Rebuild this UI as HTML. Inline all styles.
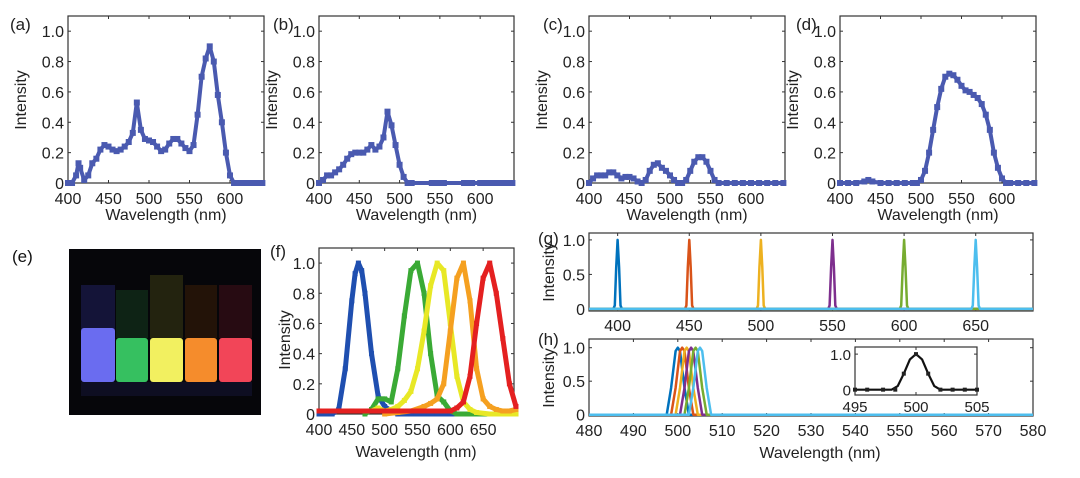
<!DOCTYPE html>
<html><head><meta charset="utf-8"><style>
html,body{margin:0;padding:0;background:#fff;}
svg{display:block;font-family:"Liberation Sans",Arial,sans-serif;}
</style></head><body>
<svg id="fig" width="1080" height="478" viewBox="0 0 1080 478" xmlns="http://www.w3.org/2000/svg">
<g id="photo">
  <text x="12" y="262" font-size="17" fill="#111">(e)</text>
  <rect x="69" y="249" width="192" height="166" fill="#06060a"/>
  <rect x="81" y="285" width="34" height="45" fill="#181844" opacity="0.8"/>
  <rect x="116" y="290" width="32" height="48" fill="#102a18" opacity="0.8"/>
  <rect x="150" y="275" width="33" height="63" fill="#2a2a10" opacity="0.8"/>
  <rect x="185" y="285" width="32" height="53" fill="#2a1608" opacity="0.8"/>
  <rect x="219" y="285" width="33" height="53" fill="#300c14" opacity="0.8"/>
  <rect x="81" y="328" width="34" height="54" rx="3" fill="#6a6cf0"/>
  <rect x="116" y="338" width="32" height="44" rx="3" fill="#36c060"/>
  <rect x="150" y="338" width="33" height="44" rx="3" fill="#f2f060"/>
  <rect x="185" y="338" width="32" height="44" rx="3" fill="#f58c2c"/>
  <rect x="219" y="338" width="33" height="44" rx="3" fill="#f24558"/>
  <rect x="81" y="382" width="171" height="14" fill="#202050" opacity="0.35"/>
</g>
</svg>
<script>
// ---------- data ----------
const aX=[400,405,410,413,415,420,425,430,435,440,445,450,455,460,465,470,475,480,485,490,495,500,505,510,515,520,525,530,535,540,545,550,555,560,565,570,575,580,585,590,595,600,605,610,615,620,625,630,635,640];
const aY=[0,0,0.05,0.13,0.1,0.02,0.05,0.13,0.16,0.22,0.25,0.24,0.22,0.21,0.22,0.24,0.27,0.33,0.53,0.35,0.29,0.28,0.27,0.24,0.21,0.22,0.26,0.29,0.29,0.26,0.23,0.21,0.25,0.45,0.7,0.82,0.9,0.8,0.58,0.4,0.2,0.05,0,0,0,0,0,0,0,0];
const bX=[400,405,410,415,420,425,430,435,440,445,450,455,460,465,470,475,480,485,490,495,500,505,510,515,540,545,550,555,580,585,590,600,605,610,615,620,625,630,635,640];
const bY=[0,0.02,0.05,0.05,0.07,0.09,0.12,0.16,0.19,0.2,0.2,0.2,0.22,0.25,0.22,0.24,0.3,0.47,0.38,0.25,0.12,0.04,0,0,0,0,0,0,0,0,0,0,0,0,0,0,0,0,0,0];
const cX=[400,405,410,415,420,425,430,435,440,445,450,455,460,465,470,475,480,485,490,495,500,505,510,515,520,525,530,535,540,545,550,555,560,570,580,590,600,610,620,630,640];
const cY=[0,0.03,0.05,0.05,0.05,0.07,0.07,0.05,0.03,0.04,0.04,0.03,0.01,0,0.02,0.08,0.12,0.13,0.1,0.08,0.05,0.02,0,0,0.02,0.08,0.14,0.17,0.17,0.14,0.08,0.02,0,0,0,0,0,0,0,0,0];
const dX=[400,410,420,430,435,440,450,460,470,480,490,495,500,505,510,515,520,525,530,535,540,545,550,555,560,565,570,575,580,585,590,595,600,605,610,620,630,640];
const dY=[0,0,0,0.01,0.02,0.01,0,0,0,0,0,0,0.02,0.08,0.2,0.35,0.5,0.62,0.7,0.72,0.71,0.68,0.64,0.61,0.6,0.58,0.56,0.52,0.45,0.35,0.2,0.1,0.03,0,0,0,0,0];
const ticksTop=[400,450,500,550,600];
const ticksY1=[0,0.2,0.4,0.6,0.8,1.0];
const tickLabY1=["0","0.2","0.4","0.6","0.8","1.0"];
// panel f
const fBlueX=[400,410,420,430,440,450,455,460,465,470,480,490,500,510,520,540,560,580,600,620,640,660,680,700];
const fBlueY=[0,0,0,0.03,0.3,0.75,0.93,1.0,0.95,0.8,0.4,0.12,0.05,0.02,0,0,0,0,0,0,0,0,0,0];
const fGreenX=[470,480,490,500,510,520,530,540,550,560,570,580,590,600,610,620,640,660,680,700];
const fGreenY=[0,0.03,0.1,0.1,0.08,0.3,0.65,0.95,1.0,0.8,0.4,0.12,0.08,0.02,0,0,0,0,0,0];
const fYellowX=[480,490,500,510,520,530,540,550,560,570,580,590,600,610,620,630,640,660,680,700];
const fYellowY=[0.02,0.04,0.02,0.03,0.05,0.09,0.15,0.3,0.55,0.85,1.0,0.95,0.6,0.25,0.08,0.03,0.01,0,0,0];
const fOrangeX=[500,520,540,560,570,580,590,600,610,620,630,640,650,660,670,680,690,700];
const fOrangeY=[0,0.01,0.02,0.05,0.07,0.1,0.2,0.55,0.9,1.0,0.75,0.3,0.1,0.05,0.03,0.02,0.02,0.03];
const fRedX=[400,450,500,550,600,610,620,630,640,650,660,670,680,690,700];
const fRedY=[0.02,0.02,0.02,0.02,0.02,0.04,0.08,0.25,0.6,0.9,1.0,0.8,0.5,0.2,0.05];
const ticksF=[400,450,500,550,600,650];
// panel g/h
const gCenters=[400,450,500,550,600,650];
const hCenters=[500,501,502,503,504,505];
const peakOffG=[-3,-2,-1,0,1,2,3];
const peakValG=[0,0.05,0.6,1,0.6,0.05,0];
const peakOffH=[-2.5,-1.5,-0.5,0,0.5,1.5,2.5];
const peakValH=[0,0.4,0.95,1.0,0.95,0.4,0];
const lineColors=["#0072BD","#D95319","#EDB120","#7E2F8E","#77AC30","#4DBEEE"];
const ticksG=[400,450,500,550,600,650];
const ticksH=[480,490,500,510,520,530,540,550,560,570,580];
const ticksY2=[0,0.5,1.0];
const tickLabY2=["0","0.5","1.0"];
const insetLineX=[495,497,498,498.5,499,499.5,500,500.5,501,501.5,502,503,505];
const insetLineY=[0,0,0,0.1,0.45,0.85,1,0.85,0.45,0.1,0,0,0];
const insetPtX=[495,496,497.3,498.3,499,500,501,502,503,504,505];
const insetPtY=[0,0,0,0,0.45,1.0,0.45,0,0,0,0];

// ---------- drawing ----------
const NS="http://www.w3.org/2000/svg";
const svg=document.getElementById('fig');
function mk(tag,attrs,parent){const e=document.createElementNS(NS,tag);for(const k in attrs)e.setAttribute(k,attrs[k]);(parent||svg).appendChild(e);return e;}
function txt(x,y,s,size,anchor,parent,name,rot){const t=mk('text',{x:x,y:y,'font-size':size,'text-anchor':anchor,fill:'#222'},parent);


if(rot)t.setAttribute('transform','rotate(-90 '+x+' '+y+')');t.textContent=s;return t;}
function panel(o){
  const g=mk('g',{});
  
  
  const sx=v=>o.L+(v-o.x0)/(o.x1-o.x0)*(o.R-o.L);
  const sy=v=>o.B-(v-o.y0)/(o.y1-o.y0)*(o.B-o.T);
  const fr=mk('rect',{x:o.L,y:o.T,width:o.R-o.L,height:o.B-o.T,fill:'none',stroke:'#333','stroke-width':1.2},g);
  
  
  o.xt.forEach(v=>{const X=sx(v);mk('line',{x1:X,x2:X,y1:o.B,y2:o.B-3,stroke:'#333'},g);mk('line',{x1:X,x2:X,y1:o.T,y2:o.T+3,stroke:'#333'},g);
    if(!o.noXLab)txt(X,o.xlY,String(v),o.fs,'middle',g,'x-tick-label');});
  o.yt.forEach((v,i)=>{const Y=sy(v);mk('line',{x1:o.L,x2:o.L+3,y1:Y,y2:Y,stroke:'#333'},g);mk('line',{x1:o.R,x2:o.R-3,y1:Y,y2:Y,stroke:'#333'},g);
    txt(o.L-4,Y+6,o.yl[i],o.fs,'end',g,'y-tick-label');});
  return {g,sx,sy};
}
function line(p,xs,ys,color,w,name){
  const pts=xs.map((x,i)=>p.sx(x).toFixed(1)+','+p.sy(ys[i]).toFixed(1)).join(' ');
  const pl=mk('polyline',{points:pts,fill:'none',stroke:color,'stroke-width':w,'stroke-linejoin':'round'},p.g);
  
  
}
function markers(p,xs,ys,color,s,name){
  xs.forEach((x,i)=>{const r=mk('rect',{x:p.sx(x)-s/2,y:p.sy(ys[i])-s/2,width:s,height:s,fill:color},p.g);
    
    });
}
const topPanels=[
 {L:68,R:264,lab:'(a)',lx:10,X:aX,Y:aY,name:'panel-a'},
 {L:319,R:514,lab:'(b)',lx:273,X:bX,Y:bY,name:'panel-b'},
 {L:589,R:785,lab:'(c)',lx:543,X:cX,Y:cY,name:'panel-c'},
 {L:840,R:1036,lab:'(d)',lx:796,X:dX,Y:dY,name:'panel-d'}];
topPanels.forEach(tp=>{
  const p=panel({name:tp.name,L:tp.L,R:tp.R,T:16,B:183,x0:400,x1:642,y0:0,y1:1.1,xt:ticksTop,yt:ticksY1,yl:tickLabY1,fs:16,xlY:204});
  line(p,tp.X,tp.Y,'#666',2,'fit-line');
  markers(p,tp.X,tp.Y,'#4a5ab0',6,'data-marker');
  line(p,tp.X,tp.Y,'#4a5ab0',4,'data-trace');
  txt(tp.lx,30,tp.lab,17,'start',p.g,'panel-label');
  txt(tp.L-42,100,'Intensity',16,'middle',p.g,'y-axis-title',true);
  txt((tp.L+tp.R)/2,220,'Wavelength (nm)',16,'middle',p.g,'x-axis-title');
});
// panel f
const pf=panel({name:'panel-f',L:319,R:514,T:248,B:414,x0:400,x1:697,y0:0,y1:1.1,xt:ticksF,yt:ticksY1,yl:tickLabY1,fs:16,xlY:435});
[[fBlueX,fBlueY,'#1f4fb0','series-blue'],[fGreenX,fGreenY,'#3aaa35','series-green'],[fYellowX,fYellowY,'#e8e826','series-yellow'],[fOrangeX,fOrangeY,'#f5a020','series-orange'],[fRedX,fRedY,'#e42020','series-red']].forEach(s=>{
  line(pf,s[0],s[1],s[2],5,s[3]);markers(pf,s[0],s[1],s[2],5,s[3]+'-marker');});
txt(270,257,'(f)',17,'start',pf.g,'panel-label');
txt(290,340,'Intensity',16,'middle',pf.g,'y-axis-title',true);
txt(416,457,'Wavelength (nm)',16,'middle',pf.g,'x-axis-title');
// panel g
const pg=panel({name:'panel-g',L:589,R:1033,T:233,B:311,x0:380,x1:690,y0:-0.03,y1:1.1,xt:ticksG,yt:ticksY2,yl:tickLabY2,fs:16,xlY:331});
gCenters.forEach((c,k)=>{
  const xs=[380].concat(peakOffG.map(o=>c+o)).concat([690]);
  const ys=[0].concat(peakValG).concat([0]);
  line(pg,xs,ys,lineColors[k],2.5,'peak-'+c);});
txt(538,244,'(g)',17,'start',pg.g,'panel-label');
txt(554,272,'Intensity',16,'middle',pg.g,'y-axis-title',true);
// panel h
const ph=panel({name:'panel-h',L:589,R:1033,T:339,B:416,x0:480,x1:580,y0:-0.02,y1:1.13,xt:ticksH,yt:ticksY2,yl:tickLabY2,fs:16,xlY:436});
hCenters.forEach((c,k)=>{
  const xs=[480].concat(peakOffH.map(o=>c+o)).concat([580]);
  const ys=[0].concat(peakValH).concat([0]);
  line(ph,xs,ys,lineColors[k],2.5,'peak-'+c);});
txt(538,345,'(h)',17,'start',ph.g,'panel-label');
txt(554,378,'Intensity',16,'middle',ph.g,'y-axis-title',true);
txt(820,458,'Wavelength (nm)',16,'middle',ph.g,'x-axis-title');
// inset
const pi=panel({name:'inset-panel',L:855,R:977,T:347,B:395,x0:495,x1:505,y0:-0.15,y1:1.2,xt:[495,500,505],yt:[0,1.0],yl:['0','1.0'],fs:15,xlY:412,noXLab:false});
line(pi,insetLineX,insetLineY,'#111',2.2,'inset-fit-line');
markers(pi,insetPtX,insetPtY,'#222',4,'inset-marker');
</script>
</body></html>
